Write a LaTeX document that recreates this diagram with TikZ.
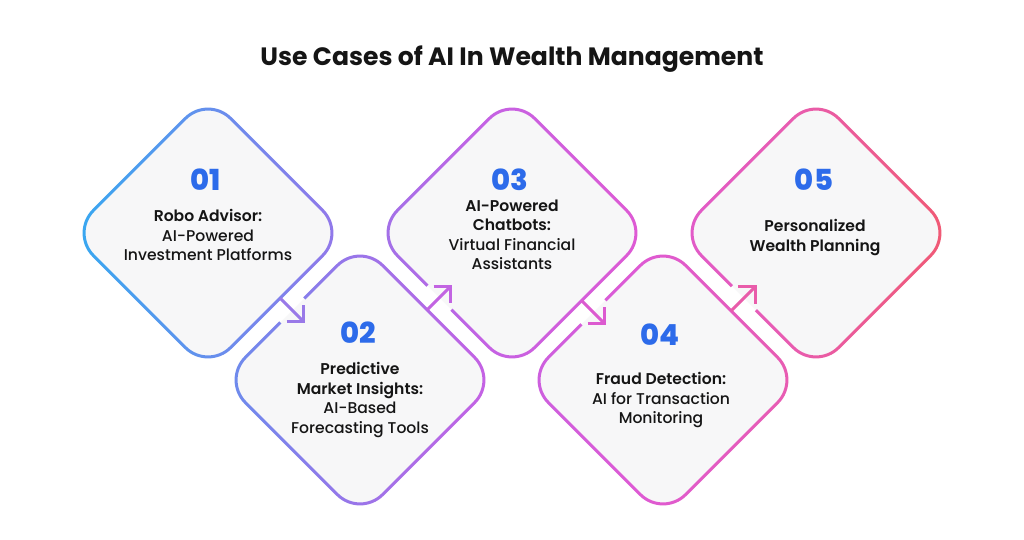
\documentclass[tikz,border=0pt]{standalone}
\usepackage{fontspec}
\setmainfont{Poppins}
\newfontfamily\fmed{Poppins Medium}
\newfontfamily\fsemi{Poppins SemiBold}
\newfontfamily\fbold{Poppins Bold}
\newfontfamily\fxbold{Poppins ExtraBold}
\definecolor{ink}{HTML}{151515}
\definecolor{numblue}{HTML}{2D6BEA}
\definecolor{panel}{HTML}{F7F7F8}
\definecolor{ga}{HTML}{3AA6F0}
\definecolor{gb}{HTML}{9079EA}
\definecolor{gc}{HTML}{C462E4}
\definecolor{gd}{HTML}{DE5AD4}
\definecolor{ge}{HTML}{E85CB2}
\definecolor{gf}{HTML}{F05A76}
\definecolor{c12}{HTML}{9979E8}
\definecolor{c23}{HTML}{C264E2}
\definecolor{c34}{HTML}{DC5AD0}
\definecolor{c45}{HTML}{E95CAA}
\pgfdeclarehorizontalshading{wgrad}{100bp}{color(0bp)=(ga); color(29.2bp)=(ga); color(41.1bp)=(gb); color(48.6bp)=(gc); color(56.1bp)=(gd); color(63.4bp)=(ge); color(70.9bp)=(gf); color(100bp)=(gf)}
% rounded square of half side #1 and corner radius #2, centred on the origin
\newcommand\rsqpath[2]{(-#1+#2,-#1) -- (#1-#2,-#1) arc[start angle=-90,end angle=0,radius=#2] -- (#1,#1-#2) arc[start angle=0,end angle=90,radius=#2] -- (-#1+#2,#1) arc[start angle=90,end angle=180,radius=#2] -- (-#1,-#1+#2) arc[start angle=180,end angle=270,radius=#2] -- cycle}
\newcommand\diaring[3]{%
  \begin{scope}[even odd rule]
    \clip (-20,-20) rectangle (1044,559) #3;
    \clip[shift={(#1,#2)}, rotate=45] \rsqpath{98.5}{33.5} \rsqpath{95.5}{30.5};
    \shade[shading=wgrad] (0,0) rectangle (1024,539);
  \end{scope}}
\begin{document}
\begin{tikzpicture}[x=1pt,y=-1pt,
  num/.style={font=\fxbold\fontsize{29}{29}\selectfont, text=numblue, inner sep=0pt},
  txt/.style={align=center, text=ink, inner sep=0pt, font=\fmed\fontsize{15.6}{19.5}\selectfont},
  arrowline/.style={line width=3pt, line cap=butt, line join=miter},
  titlestyle/.style={font=\fbold\fontsize{25.1}{25.1}\selectfont, text=ink, inner sep=0pt}]
\fill[white] (0,0) rectangle (1024,539);
\useasboundingbox (0,0) rectangle (1024,539);
\node[titlestyle] (title) at (512,59) {Use Cases of AI In Wealth Management};
% panels
\foreach \cx/\cy in {208/233,360/380,512/233,663/380,816/233}
  \fill[panel, shift={(\cx,\cy)}, rotate=45] \rsqpath{97}{32};
% gradient borders (with gaps where arrows enter)
\diaring{208}{233}{(-10,-10) rectangle (-5,-5)}
\diaring{360}{380}{(308.6,302.6) -- (300.2,294.2) -- (276.2,318.2) -- (284.6,326.6) -- cycle}
\diaring{512}{233}{(455.6,305.4) -- (447.2,313.8) -- (423.2,289.8) -- (431.6,281.4) -- cycle}
\diaring{663}{380}{(609.6,304.6) -- (601.2,296.2) -- (577.2,320.2) -- (585.6,328.6) -- cycle}
\diaring{816}{233}{(760.1,305.9) -- (751.7,314.3) -- (727.7,290.3) -- (736.1,281.9) -- cycle}
% arrows
\coordinate (s12) at (280.1,298.1); \coordinate (e12) at (303.7,321.7);
\coordinate (s23) at (427.1,309.9); \coordinate (e23) at (450.7,286.3);
\coordinate (s34) at (581.6,300.6); \coordinate (e34) at (604.7,323.7);
\coordinate (s45) at (731.1,310.9); \coordinate (e45) at (755.2,286.8);
\draw[arrowline, c12] (s12) -- (e12);
\draw[arrowline, c12] (e12) ++(-17,0) -- (e12) -- ++(0,-17);
\draw[arrowline, c23] (s23) -- (e23);
\draw[arrowline, c23] (e23) ++(-17,0) -- (e23) -- ++(0,17);
\draw[arrowline, c34] (s34) -- (e34);
\draw[arrowline, c34] (e34) ++(-17,0) -- (e34) -- ++(0,-17);
\draw[arrowline, c45] (s45) -- (e45);
\draw[arrowline, c45] (e45) ++(-17,0) -- (e45) -- ++(0,17);
% texts
\node[num] (n1) at (206,180) {01};
\node[txt] (t1) at (208,235) {{\fsemi Robo Advisor:}\\AI-Powered\\Investment Platforms};
\node[num] (n2) at (358,333) {02};
\node[txt] (t2) at (360,400) {{\fsemi Predictive}\\{\fsemi Market Insights:}\\AI-Based\\Forecasting Tools};
\node[num] (n3) at (510,180) {03};
\node[txt] (t3) at (512,235) {{\fsemi AI-Powered}\\{\fsemi Chatbots:}\\Virtual Financial\\Assistants};
\node[num] (n4) at (660,335) {04};
\node[txt] (t4) at (661,400) {{\fsemi Fraud Detection:}\\AI for Transaction\\Monitoring};
\node[num] (n5) at (814,180) {05};
\node[txt] (t5) at (815,237.5) {{\fsemi Personalized}\\{\fsemi Wealth Planning}};
\end{tikzpicture}
\end{document}
